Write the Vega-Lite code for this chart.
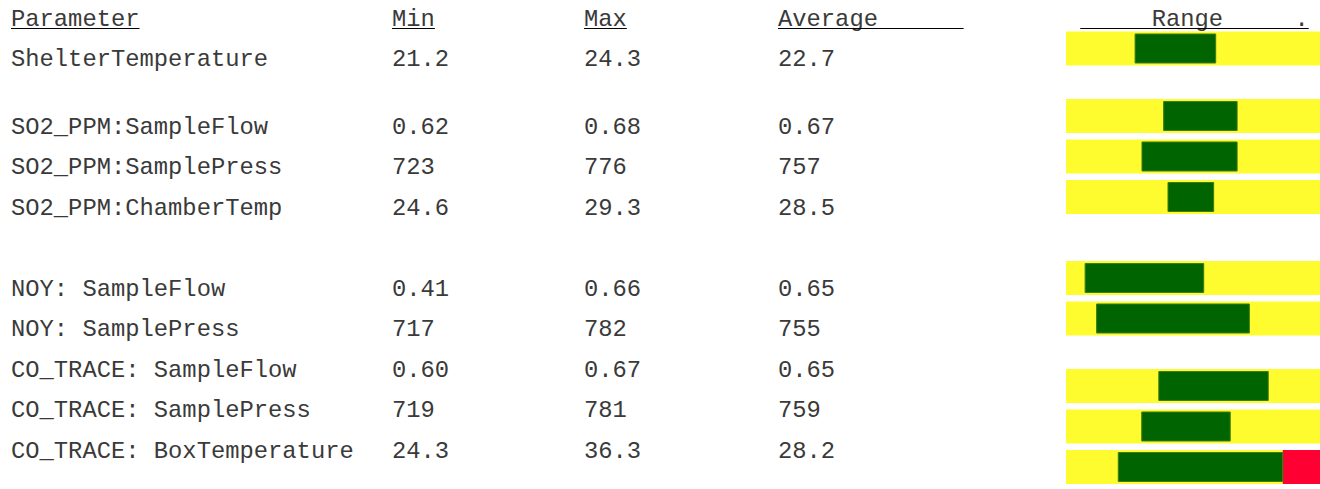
{
  "$schema": "https://vega.github.io/schema/vega-lite/v6.json",
  "background": "white",
  "padding": {"left": 10, "top": 0, "right": 0, "bottom": 0},
  "spacing": 0,
  "bounds": "flush",
  "config": {"view": {"stroke": null}},
  "datasets": {
    "table": [
      {"param": "ShelterTemperature", "min": "21.2", "max": "24.3", "avg": "22.7", "lo": 27.1, "hi": 58.7, "flag": "ok"},
      {"param": "SO2_PPM:SampleFlow", "min": "0.62", "max": "0.68", "avg": "0.67", "lo": 38.3, "hi": 67.1, "flag": "ok"},
      {"param": "SO2_PPM:SamplePress", "min": "723", "max": "776", "avg": "757", "lo": 29.8, "hi": 67.1, "flag": "ok"},
      {"param": "SO2_PPM:ChamberTemp", "min": "24.6", "max": "29.3", "avg": "28.5", "lo": 40.0, "hi": 57.9, "flag": "ok"},
      {"param": "NOY: SampleFlow", "min": "0.41", "max": "0.66", "avg": "0.65", "lo": 7.5, "hi": 54.0, "flag": "ok"},
      {"param": "NOY: SamplePress", "min": "717", "max": "782", "avg": "755", "lo": 12.0, "hi": 71.9, "flag": "ok"},
      {"param": "CO_TRACE: SampleFlow", "min": "0.60", "max": "0.67", "avg": "0.65", "lo": 36.4, "hi": 79.3, "flag": "ok"},
      {"param": "CO_TRACE: SamplePress", "min": "719", "max": "781", "avg": "759", "lo": 29.7, "hi": 64.4, "flag": "ok"},
      {"param": "CO_TRACE: BoxTemperature", "min": "24.3", "max": "36.3", "avg": "28.2", "lo": 20.5, "hi": 85.0, "flag": "high"}
    ],
    "headers": [
      {"col": "Parameter", "row": "header", "label": "Parameter", "indent": 0},
      {"col": "Min", "row": "header", "label": "Min", "indent": 0},
      {"col": "Max", "row": "header", "label": "Max", "indent": 0},
      {"col": "Average", "row": "header", "label": "Average\u00a0\u00a0\u00a0\u00a0\u00a0\u00a0", "indent": 0},
      {"col": "Range", "row": "header", "label": "Range\u00a0\u00a0\u00a0\u00a0\u00a0.", "indent": 5}
    ]
  },
  "hconcat": [
    {
      "width": 381, "height": 489,
      "layer": [
        {"data": {"name": "headers"}, "transform": [{"filter": "datum.col === 'Parameter'"}, {"calculate": "length(datum.label)", "as": "len"}],
         "mark": {"type": "text", "align": "left", "baseline": "alphabetic", "font": "Liberation Mono", "fontSize": 23.8, "color": "#3a3a3a"},
         "encoding": {
           "x": {"datum": 0, "type": "quantitative", "scale": {"type": "linear", "domain": [0, 1], "range": [0, 14.28], "nice": false, "zero": false}, "axis": null},
           "y": {"field": "row", "type": "ordinal", "scale": {"type": "point", "domain": ["header","t1","t2","ShelterTemperature","t4","t5","t6","t7","SO2_PPM:SampleFlow","t9","t10","SO2_PPM:SamplePress","t12","t13","SO2_PPM:ChamberTemp","t15","t16","t17","t18","t19","NOY: SampleFlow","t21","t22","NOY: SamplePress","t24","t25","CO_TRACE: SampleFlow","t27","t28","CO_TRACE: SamplePress","t30","t31","CO_TRACE: BoxTemperature"], "padding": 0, "range": [25.5, 457.5]}, "axis": null},
           "text": {"field": "label"}}},
        {"data": {"name": "headers"}, "transform": [{"filter": "datum.col === 'Parameter'"}, {"calculate": "length(datum.label)", "as": "len"}],
         "mark": {"type": "rule", "yOffset": 3, "color": "#000", "strokeWidth": 1},
         "encoding": {
           "x": {"field": "len", "type": "quantitative", "axis": null},
           "x2": {"datum": 0},
           "y": {"field": "row", "type": "ordinal", "axis": null}}},
        {"data": {"name": "table"},
         "mark": {"type": "text", "align": "left", "baseline": "alphabetic", "font": "Liberation Mono", "fontSize": 23.8, "color": "#3a3a3a"},
         "encoding": {
           "x": {"datum": 0, "type": "quantitative", "axis": null},
           "y": {"field": "param", "type": "ordinal", "axis": null},
           "text": {"field": "param"}}}
      ]
    },
    {
      "width": 192, "height": 489,
      "layer": [
        {"data": {"name": "headers"}, "transform": [{"filter": "datum.col === 'Min'"}, {"calculate": "length(datum.label)", "as": "len"}],
         "mark": {"type": "text", "align": "left", "baseline": "alphabetic", "font": "Liberation Mono", "fontSize": 23.8, "color": "#3a3a3a"},
         "encoding": {
           "x": {"datum": 0, "type": "quantitative", "scale": {"type": "linear", "domain": [0, 1], "range": [0, 14.28], "nice": false, "zero": false}, "axis": null},
           "y": {"field": "row", "type": "ordinal", "scale": {"type": "point", "domain": ["header","t1","t2","ShelterTemperature","t4","t5","t6","t7","SO2_PPM:SampleFlow","t9","t10","SO2_PPM:SamplePress","t12","t13","SO2_PPM:ChamberTemp","t15","t16","t17","t18","t19","NOY: SampleFlow","t21","t22","NOY: SamplePress","t24","t25","CO_TRACE: SampleFlow","t27","t28","CO_TRACE: SamplePress","t30","t31","CO_TRACE: BoxTemperature"], "padding": 0, "range": [25.5, 457.5]}, "axis": null},
           "text": {"field": "label"}}},
        {"data": {"name": "headers"}, "transform": [{"filter": "datum.col === 'Min'"}, {"calculate": "length(datum.label)", "as": "len"}],
         "mark": {"type": "rule", "yOffset": 3, "color": "#000", "strokeWidth": 1},
         "encoding": {
           "x": {"field": "len", "type": "quantitative", "axis": null},
           "x2": {"datum": 0},
           "y": {"field": "row", "type": "ordinal", "axis": null}}},
        {"data": {"name": "table"},
         "mark": {"type": "text", "align": "left", "baseline": "alphabetic", "font": "Liberation Mono", "fontSize": 23.8, "color": "#3a3a3a"},
         "encoding": {
           "x": {"datum": 0, "type": "quantitative", "axis": null},
           "y": {"field": "param", "type": "ordinal", "axis": null},
           "text": {"field": "min"}}}
      ]
    },
    {
      "width": 194, "height": 489,
      "layer": [
        {"data": {"name": "headers"}, "transform": [{"filter": "datum.col === 'Max'"}, {"calculate": "length(datum.label)", "as": "len"}],
         "mark": {"type": "text", "align": "left", "baseline": "alphabetic", "font": "Liberation Mono", "fontSize": 23.8, "color": "#3a3a3a"},
         "encoding": {
           "x": {"datum": 0, "type": "quantitative", "scale": {"type": "linear", "domain": [0, 1], "range": [0, 14.28], "nice": false, "zero": false}, "axis": null},
           "y": {"field": "row", "type": "ordinal", "scale": {"type": "point", "domain": ["header","t1","t2","ShelterTemperature","t4","t5","t6","t7","SO2_PPM:SampleFlow","t9","t10","SO2_PPM:SamplePress","t12","t13","SO2_PPM:ChamberTemp","t15","t16","t17","t18","t19","NOY: SampleFlow","t21","t22","NOY: SamplePress","t24","t25","CO_TRACE: SampleFlow","t27","t28","CO_TRACE: SamplePress","t30","t31","CO_TRACE: BoxTemperature"], "padding": 0, "range": [25.5, 457.5]}, "axis": null},
           "text": {"field": "label"}}},
        {"data": {"name": "headers"}, "transform": [{"filter": "datum.col === 'Max'"}, {"calculate": "length(datum.label)", "as": "len"}],
         "mark": {"type": "rule", "yOffset": 3, "color": "#000", "strokeWidth": 1},
         "encoding": {
           "x": {"field": "len", "type": "quantitative", "axis": null},
           "x2": {"datum": 0},
           "y": {"field": "row", "type": "ordinal", "axis": null}}},
        {"data": {"name": "table"},
         "mark": {"type": "text", "align": "left", "baseline": "alphabetic", "font": "Liberation Mono", "fontSize": 23.8, "color": "#3a3a3a"},
         "encoding": {
           "x": {"datum": 0, "type": "quantitative", "axis": null},
           "y": {"field": "param", "type": "ordinal", "axis": null},
           "text": {"field": "max"}}}
      ]
    },
    {
      "width": 288, "height": 489,
      "layer": [
        {"data": {"name": "headers"}, "transform": [{"filter": "datum.col === 'Average'"}, {"calculate": "length(datum.label)", "as": "len"}],
         "mark": {"type": "text", "align": "left", "baseline": "alphabetic", "font": "Liberation Mono", "fontSize": 23.8, "color": "#3a3a3a"},
         "encoding": {
           "x": {"datum": 0, "type": "quantitative", "scale": {"type": "linear", "domain": [0, 1], "range": [0, 14.28], "nice": false, "zero": false}, "axis": null},
           "y": {"field": "row", "type": "ordinal", "scale": {"type": "point", "domain": ["header","t1","t2","ShelterTemperature","t4","t5","t6","t7","SO2_PPM:SampleFlow","t9","t10","SO2_PPM:SamplePress","t12","t13","SO2_PPM:ChamberTemp","t15","t16","t17","t18","t19","NOY: SampleFlow","t21","t22","NOY: SamplePress","t24","t25","CO_TRACE: SampleFlow","t27","t28","CO_TRACE: SamplePress","t30","t31","CO_TRACE: BoxTemperature"], "padding": 0, "range": [25.5, 457.5]}, "axis": null},
           "text": {"field": "label"}}},
        {"data": {"name": "headers"}, "transform": [{"filter": "datum.col === 'Average'"}, {"calculate": "length(datum.label)", "as": "len"}],
         "mark": {"type": "rule", "yOffset": 3, "color": "#000", "strokeWidth": 1},
         "encoding": {
           "x": {"field": "len", "type": "quantitative", "axis": null},
           "x2": {"datum": 0},
           "y": {"field": "row", "type": "ordinal", "axis": null}}},
        {"data": {"name": "table"},
         "mark": {"type": "text", "align": "left", "baseline": "alphabetic", "font": "Liberation Mono", "fontSize": 23.8, "color": "#3a3a3a"},
         "encoding": {
           "x": {"datum": 0, "type": "quantitative", "axis": null},
           "y": {"field": "param", "type": "ordinal", "axis": null},
           "text": {"field": "avg"}}}
      ]
    },
    {
      "width": 255, "height": 489,
      "resolve": {"scale": {"x": "independent", "y": "independent"}},
      "layer": [
        {"data": {"name": "table"},
         "mark": {"type": "bar", "color": "#fefb2e", "size": 34},
         "encoding": {
           "x": {"datum": 0, "type": "quantitative", "scale": {"domain": [0, 100], "nice": false, "zero": false}, "axis": null},
           "x2": {"datum": 100},
           "y": {"field": "param", "type": "ordinal", "scale": {"type": "point", "domain": ["ShelterTemperature","b1","b2","b3","b4","SO2_PPM:SampleFlow","b6","b7","SO2_PPM:SamplePress","b9","b10","SO2_PPM:ChamberTemp","b12","b13","b14","b15","b16","NOY: SampleFlow","b18","b19","NOY: SamplePress","b21","b22","b23","b24","CO_TRACE: SampleFlow","b26","b27","CO_TRACE: SamplePress","b29","b30","CO_TRACE: BoxTemperature"], "padding": 0, "range": [48.5, 467]}, "axis": null}}},
        {"data": {"name": "table"},
         "transform": [{"filter": "datum.flag === 'high'"}],
         "mark": {"type": "bar", "color": "#ff0033", "size": 34},
         "encoding": {
           "x": {"field": "hi", "type": "quantitative", "scale": {"domain": [0, 100], "nice": false, "zero": false}, "axis": null},
           "x2": {"datum": 100},
           "y": {"field": "param", "type": "ordinal", "scale": {"type": "point", "domain": ["ShelterTemperature","b1","b2","b3","b4","SO2_PPM:SampleFlow","b6","b7","SO2_PPM:SamplePress","b9","b10","SO2_PPM:ChamberTemp","b12","b13","b14","b15","b16","NOY: SampleFlow","b18","b19","NOY: SamplePress","b21","b22","b23","b24","CO_TRACE: SampleFlow","b26","b27","CO_TRACE: SamplePress","b29","b30","CO_TRACE: BoxTemperature"], "padding": 0, "range": [48.5, 467]}, "axis": null}}},
        {"data": {"name": "table"},
         "mark": {"type": "bar", "fill": "#006400", "stroke": "#3f7d10", "strokeWidth": 1, "size": 29},
         "encoding": {
           "x": {"field": "lo", "type": "quantitative", "scale": {"domain": [0, 100], "nice": false, "zero": false}, "axis": null},
           "x2": {"field": "hi"},
           "y": {"field": "param", "type": "ordinal", "scale": {"type": "point", "domain": ["ShelterTemperature","b1","b2","b3","b4","SO2_PPM:SampleFlow","b6","b7","SO2_PPM:SamplePress","b9","b10","SO2_PPM:ChamberTemp","b12","b13","b14","b15","b16","NOY: SampleFlow","b18","b19","NOY: SamplePress","b21","b22","b23","b24","CO_TRACE: SampleFlow","b26","b27","CO_TRACE: SamplePress","b29","b30","CO_TRACE: BoxTemperature"], "padding": 0, "range": [48.5, 467]}, "axis": null}}},
        {"data": {"name": "headers"}, "transform": [{"filter": "datum.col === 'Range'"}, {"calculate": "datum.indent + 1", "as": "start"}],
         "mark": {"type": "text", "align": "left", "baseline": "alphabetic", "font": "Liberation Mono", "fontSize": 23.8, "color": "#3a3a3a"},
         "encoding": {
           "x": {"field": "start", "type": "quantitative", "scale": {"type": "linear", "domain": [0, 1], "range": [0, 14.28], "nice": false, "zero": false}, "axis": null},
           "y": {"field": "row", "type": "ordinal", "scale": {"type": "point", "domain": ["header","t1","t2","ShelterTemperature","t4","t5","t6","t7","SO2_PPM:SampleFlow","t9","t10","SO2_PPM:SamplePress","t12","t13","SO2_PPM:ChamberTemp","t15","t16","t17","t18","t19","NOY: SampleFlow","t21","t22","NOY: SamplePress","t24","t25","CO_TRACE: SampleFlow","t27","t28","CO_TRACE: SamplePress","t30","t31","CO_TRACE: BoxTemperature"], "padding": 0, "range": [25.5, 457.5]}, "axis": null},
           "text": {"field": "label"}}},
        {"data": {"name": "headers"}, "transform": [{"filter": "datum.col === 'Range'"}, {"calculate": "length(datum.label) + datum.indent + 1", "as": "end"}],
         "mark": {"type": "rule", "yOffset": 3, "color": "#000", "strokeWidth": 1},
         "encoding": {
           "x": {"field": "end", "type": "quantitative", "scale": {"type": "linear", "domain": [0, 1], "range": [0, 14.28], "nice": false, "zero": false}, "axis": null},
           "x2": {"datum": 1},
           "y": {"field": "row", "type": "ordinal", "scale": {"type": "point", "domain": ["header","t1","t2","ShelterTemperature","t4","t5","t6","t7","SO2_PPM:SampleFlow","t9","t10","SO2_PPM:SamplePress","t12","t13","SO2_PPM:ChamberTemp","t15","t16","t17","t18","t19","NOY: SampleFlow","t21","t22","NOY: SamplePress","t24","t25","CO_TRACE: SampleFlow","t27","t28","CO_TRACE: SamplePress","t30","t31","CO_TRACE: BoxTemperature"], "padding": 0, "range": [25.5, 457.5]}, "axis": null}}}
      ]
    }
  ]
}
